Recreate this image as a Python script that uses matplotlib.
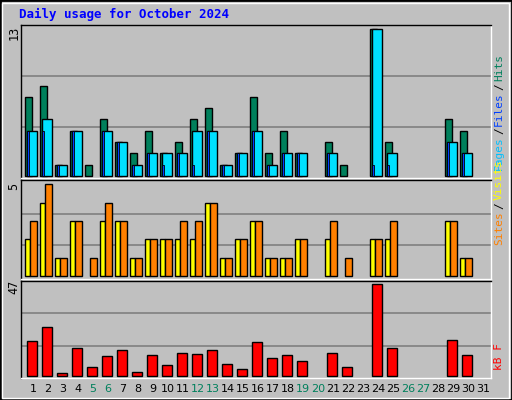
import matplotlib
matplotlib.use("Agg")
import matplotlib.pyplot as plt
import numpy as np
from matplotlib.patches import Rectangle

days = list(range(1, 32))
hits  = [7,8,1,4,1,5,3,2,4,2,3,5,6,1,2,7,2,4,2,0,3,1,0,13,3,0,0,0,5,4,0]
files = [4,5,1,4,0,4,3,1,2,2,2,4,4,1,2,4,1,2,2,0,2,0,0,13,2,0,0,0,3,2,0]
pages = [4,4,1,4,0,4,3,1,2,1,2,1,4,1,2,4,1,2,2,0,2,0,0,1,1,0,0,0,3,2,0]
visits = [3,5,1,3,1,4,3,1,2,2,3,3,4,1,2,3,1,1,2,0,3,1,0,2,3,0,0,0,3,1,0]
sites  = [2,4,1,3,0,3,3,1,2,2,2,2,4,1,2,3,1,1,2,0,2,0,0,2,2,0,0,0,3,1,0]
kbytes = [17.7,24.9,1.2,14.1,4.3,9.9,13,1.7,10.5,5.3,11.5,11,13,5.8,3.3,17.2,8.9,10.5,7.4,0,11.5,4.3,0,47,14.1,0,0,0,18.2,10.5,0]
weekend = [5,6,12,13,19,20,26,27]
title = "Daily usage for October 2024"

W, H = 512, 400
fig = plt.figure(figsize=(W/100, H/100), dpi=100, facecolor="#C0C0C0")
fig.patches.append(Rectangle((0, 0), 1, 1, transform=fig.transFigure, fill=False, ec="#000000", lw=2))
fig.patches.append(Rectangle((2/W, 2/H), 1-5/W, 1-5/H, transform=fig.transFigure, fill=False, ec="#FFFFFF", lw=1))

def px_axes(x0, y0, x1, y1):
    return fig.add_axes([x0/W, 1-y1/H, (x1-x0)/W, (y1-y0)/H])

x = np.arange(len(days))
def setup(ax, top_px, bot_px, zero_px, max_px, vmax, grids):
    ax.set_facecolor("#C0C0C0")
    scale = (zero_px-max_px)/vmax
    ax.set_ylim(-(bot_px-zero_px)/scale, (zero_px-top_px)/scale)
    ax.set_xlim(20.5, 490.5)
    for g in grids:
        ax.axhline(g*vmax, color="#808080", lw=1.2, zorder=0)
    ax.set_xticks([]); ax.set_yticks([])
    for s in ax.spines.values():
        s.set_color("#000000"); s.set_linewidth(1)
    ax.spines["bottom"].set_color("#FFFFFF"); ax.spines["right"].set_color("#FFFFFF")

def bars(ax, offset, vals, width, color, lw=1, z=2):
    v = np.array(vals, dtype=float)
    m = v > 0
    ax.bar((25 + 15*x + offset)[m], v[m], width=width, align="edge", color=color, ec="black", lw=lw, zorder=z)

ax1 = px_axes(20.5, 25, 490.5, 177.5)
setup(ax1, 25, 177.5, 176, 29, 13, [1/3, 0.68])
bars(ax1, 0, hits, 7, "#00805C")
bars(ax1, 2, files, 9.5, "#00E0FF", z=3)
bars(ax1, 2, pages, 2, "#0040FF", lw=0.6, z=4)

ax2 = px_axes(20.5, 179.5, 490.5, 279)
setup(ax2, 179.5, 279, 276, 184.3, 5, [1/3, 0.68])
bars(ax2, 0, sites, 5, "#FFFF00")
bars(ax2, 4.5, visits, 7, "#FF8000", z=3)

ax3 = px_axes(20.5, 280.5, 490.5, 377.5)
setup(ax3, 280.5, 377.5, 375.7, 284.3, 47, [0.32, 0.686])
bars(ax3, 1.5, kbytes, 10, "#FF0000")

mono = "DejaVu Sans Mono"
fig.text(19/W, 1-14/H, title, color="#0000FF", fontsize=9, fontweight="bold", family=mono, va="center")
for lab, y in [("13", 33), ("5", 186), ("47", 287)]:
    fig.text(14/W, 1-y/H, lab, rotation=90, fontsize=8.5, family=mono, ha="center", va="center")

fig.canvas.draw()
renderer = fig.canvas.get_renderer()
def rot_label(y_bottom, parts):
    # parts listed bottom-to-top; y_bottom in px from top
    y = y_bottom
    for t, c in parts:
        tx = fig.text(499/W, 1-y/H, t, rotation=90, color=c, fontsize=8, family=mono, ha="center", va="bottom")
        bb = tx.get_window_extent(renderer)
        y -= bb.height + 2

rot_label(170, [("Pages", "#00C0FF"), ("/", "#000000"), ("Files", "#0040FF"), ("/", "#000000"), ("Hits", "#00805C")])
rot_label(245, [("Sites", "#FF8000"), ("/", "#000000"), ("Visits", "#FFFF00")])
rot_label(370, [("kB F", "#FF0000")])

for i, d in enumerate(days):
    cx = 33 + 15*i
    fig.text(cx/W, 1-389/H, str(d), fontsize=8, ha="center", va="center",
             color="#00805C" if d in weekend else "#000000")

fig.savefig("out.png", dpi=100, facecolor=fig.get_facecolor())
